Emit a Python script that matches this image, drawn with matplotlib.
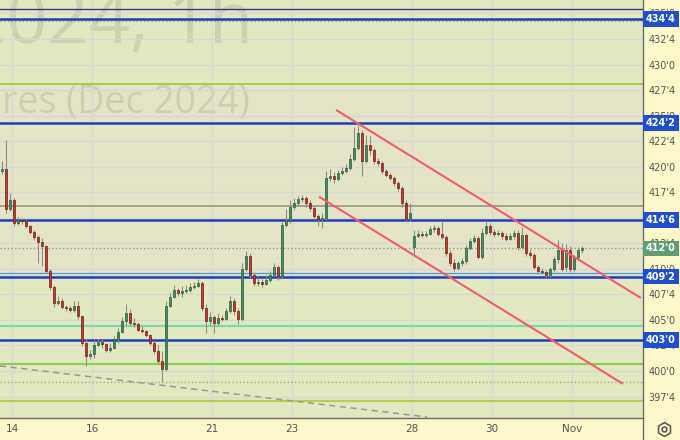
import matplotlib
matplotlib.use('Agg')
import matplotlib.pyplot as plt
from matplotlib.lines import Line2D
from matplotlib.ticker import FuncFormatter

plt.rcParams['font.family'] = ['DejaVu Sans']

# ZCZ2024 hourly candles (cents/bu)
opens = [419.6, 419.8, 415.9, 416.7, 414.5, 414.8, 414.7, 414.2, 413.6, 413.1,
         412.6, 412.2, 409.8, 408.2, 406.7, 406.9, 406.3, 406.2, 406.0, 406.4,
         405.4, 402.7, 401.5, 401.7, 402.5, 402.8, 402.6, 402.1, 402.3, 403.1,
         403.8, 404.9, 405.7, 404.7, 404.6, 404.0, 403.9, 403.5, 402.7, 402.0,
         401.0, 400.2, 406.4, 407.2, 407.9, 407.6, 407.8, 407.9, 408.2, 408.3,
         408.6, 406.2, 404.9, 405.3, 404.7, 405.2, 405.1, 405.9, 406.9, 405.9,
         405.1, 410.0, 411.3, 409.4, 408.6, 408.7, 408.5, 408.9, 409.4, 410.2,
         409.3, 414.3, 414.7, 416.1, 416.4, 416.8, 416.9, 416.4, 416.0, 415.2,
         414.9, 415.0, 418.9, 419.1, 418.8, 419.4, 419.6, 419.9, 420.8, 421.8,
         423.3, 420.6, 422.1, 421.6, 420.6, 420.4, 419.6, 419.2, 418.9, 418.4,
         417.9, 416.4, 414.9, 412.1, 413.2, 413.4, 413.3, 413.4, 413.9, 414.0,
         413.4, 413.1, 411.6, 410.6, 410.1, 410.6, 410.8, 412.0, 412.7, 413.0,
         411.2, 413.5, 414.2, 413.6, 413.4, 413.5, 413.2, 412.9, 413.2, 413.5,
         412.1, 413.3, 411.6, 411.4, 410.2, 409.8, 409.7, 409.4, 410.0, 411.0,
         411.8, 410.2, 411.8, 410.0, 411.2, 411.8]
highs = [420.6, 422.6, 417.4, 416.9, 415.1, 415.0, 414.9, 414.3, 413.8, 413.3,
         413.0, 412.3, 410.0, 408.4, 407.3, 407.1, 406.5, 406.4, 406.9, 406.9,
         405.5, 403.2, 402.1, 403.0, 403.1, 403.1, 402.7, 402.7, 403.4, 404.2,
         405.3, 406.6, 406.1, 405.2, 404.8, 404.4, 404.0, 403.6, 402.9, 402.5,
         402.0, 406.9, 407.6, 408.4, 408.1, 408.3, 408.4, 408.6, 408.7, 409.0,
         408.8, 406.6, 405.8, 405.5, 405.7, 405.5, 406.2, 407.3, 407.1, 406.2,
         410.6, 411.7, 411.6, 409.6, 409.2, 409.0, 409.4, 409.8, 410.6, 410.4,
         414.7, 415.9, 416.7, 416.9, 417.1, 417.2, 417.1, 416.7, 416.2, 415.4,
         415.5, 419.6, 419.8, 419.5, 419.7, 420.0, 420.3, 421.2, 423.9, 424.1,
         423.6, 423.1, 423.0, 421.8, 420.9, 420.6, 419.8, 419.4, 419.1, 418.6,
         418.1, 416.7, 416.4, 413.8, 413.8, 413.7, 413.7, 414.2, 414.3, 414.2,
         414.7, 413.3, 411.8, 411.0, 410.8, 411.1, 412.3, 413.0, 413.3, 413.2,
         414.0, 414.7, 414.5, 413.9, 413.8, 413.7, 413.5, 413.5, 413.8, 413.8,
         414.1, 413.5, 411.9, 411.6, 410.4, 410.1, 409.9, 410.2, 411.3, 412.8,
         412.5, 412.4, 412.2, 411.4, 412.1, 412.2]
lows = [419.3, 415.5, 415.7, 414.2, 414.3, 414.4, 414.0, 413.4, 412.8, 410.6,
        410.3, 409.6, 407.9, 406.3, 406.5, 406.1, 405.9, 405.8, 405.8, 405.1,
        402.4, 400.5, 401.2, 401.3, 402.4, 402.3, 401.9, 401.9, 402.2, 402.7,
        403.7, 404.5, 404.4, 404.3, 403.9, 403.7, 403.3, 402.5, 401.7, 400.8,
        398.9, 400.0, 406.3, 407.1, 407.3, 407.2, 407.6, 407.7, 408.0, 408.2,
        405.9, 403.7, 404.5, 403.7, 404.4, 404.9, 405.0, 405.7, 405.5, 404.6,
        404.9, 409.8, 409.1, 408.3, 408.3, 408.2, 408.4, 408.7, 409.3, 408.9,
        409.1, 414.1, 414.5, 415.8, 416.2, 416.5, 416.1, 415.7, 414.8, 414.2,
        414.0, 414.8, 418.6, 418.4, 418.6, 419.2, 419.4, 419.7, 420.6, 421.6,
        419.1, 420.4, 421.1, 420.3, 420.1, 419.3, 419.0, 418.7, 418.1, 417.6,
        416.1, 414.7, 414.7, 411.5, 413.1, 413.1, 413.1, 413.3, 413.6, 413.2,
        412.9, 411.3, 410.3, 409.8, 409.9, 410.3, 410.5, 411.8, 412.5, 411.0,
        411.0, 413.3, 413.3, 413.1, 413.2, 412.9, 412.7, 412.8, 412.9, 411.8,
        411.9, 411.3, 411.1, 410.0, 409.6, 409.5, 409.2, 409.2, 409.7, 410.6,
        409.8, 409.8, 409.7, 409.8, 411.0, 411.6]
closes = [419.8, 415.9, 416.7, 414.5, 414.8, 414.7, 414.2, 413.6, 413.1, 412.6,
          412.2, 409.8, 408.2, 406.7, 406.9, 406.3, 406.2, 406.0, 406.4, 405.4,
          402.7, 401.5, 401.7, 402.5, 402.8, 402.6, 402.1, 402.3, 403.1, 403.8,
          404.9, 405.7, 404.7, 404.6, 404.0, 403.9, 403.5, 402.7, 402.0, 401.0,
          400.2, 406.4, 407.2, 407.9, 407.6, 407.8, 407.9, 408.2, 408.3, 408.6,
          406.2, 404.9, 405.3, 404.7, 405.2, 405.1, 405.9, 406.9, 405.9, 405.1,
          410.0, 411.3, 409.4, 408.6, 408.7, 408.5, 408.9, 409.4, 410.2, 409.3,
          414.3, 414.7, 416.1, 416.4, 416.8, 416.9, 416.4, 416.0, 415.2, 414.9,
          415.0, 418.9, 419.1, 418.8, 419.4, 419.6, 419.9, 420.8, 421.8, 423.3,
          420.6, 422.1, 421.6, 420.6, 420.4, 419.6, 419.2, 418.9, 418.4, 417.9,
          416.4, 414.9, 415.5, 413.2, 413.4, 413.3, 413.4, 413.9, 414.0, 413.4,
          413.1, 411.6, 410.6, 410.1, 410.6, 410.8, 412.0, 412.7, 413.0, 411.2,
          413.5, 414.2, 413.6, 413.4, 413.5, 413.2, 412.9, 413.2, 413.5, 412.1,
          413.3, 411.6, 411.4, 410.2, 409.8, 409.7, 409.4, 410.0, 411.0, 411.8,
          410.0, 411.8, 410.0, 411.2, 411.8, 412.0]

day_labels = ['14', '16', '21', '23', '28', '30', 'Nov']
day_pos = [2.5, 22.5, 52.5, 72.5, 102.5, 122.5, 142.5]
price_ticks = [397.5, 400.0, 402.5, 405.0, 407.5, 410.0, 412.5, 415.0, 417.5,
               420.0, 422.5, 425.0, 427.5, 430.0, 432.5, 435.0]

# drawn levels
key_levels = [434.5, 424.25, 414.75, 409.25, 403.0]
other_levels = [435.44, 434.26, 428.1, 416.2, 409.64, 404.36, 400.69, 398.92, 397.09]
other_styles = [('#2e3d8e', 1.0, '-'), ('#a3a391', 1.0, ':'), ('#9ccc3c', 1.3, '-'),
                ('#a4a28c', 1.4, '-'), ('#4aa3df', 1.0, '-'), ('#7ddba8', 1.6, '-'),
                ('#86d05a', 1.6, '-'), ('#a3a391', 1.0, ':'), ('#b4d050', 1.6, '-')]
last_price = 412.0

chan_up_x = [83.75, 159.5]
chan_up_y = [425.5, 407.2]
chan_lo_x = [79.5, 155.0]
chan_lo_y = [417.0, 398.8]
trend_x = [-0.5, 106.25]
trend_y = [400.5, 395.5]

fig = plt.figure(figsize=(6.8, 4.4), dpi=100)
fig.patch.set_facecolor('#fdf8c9')
ax = fig.add_axes([0, 22 / 440, 643 / 680, 418 / 440])
ax.set_xlim(-0.5, 160.25)
ax.set_ylim(395.40, 436.32)
ax.set_facecolor('#e3e8c1')

# background zones
ax.axhspan(409.25, 428.1, color='#e6e4c7', zorder=0, lw=0)
ax.axhspan(428.1, 436.32, color='#e2e8c0', zorder=0, lw=0)

# watermark
ax.text(253 / 643, (418 - 43) / 418, 'ZCZ2024, 1h', transform=ax.transAxes,
        ha='right', va='baseline', fontsize=52, family='Open Sans',
        color='#8e9080', alpha=0.26, zorder=0.2, clip_on=True)
ax.text(250 / 643, (418 - 112) / 418, 'Corn Futures (Dec 2024)', transform=ax.transAxes,
        ha='right', va='baseline', fontsize=27, family='Open Sans',
        color='#8e9080', alpha=0.26, zorder=0.2, clip_on=True)

# grid
for p in price_ticks:
    ax.axhline(p, color='#d3d9d6', lw=0.9, zorder=0.3)
for d in day_pos:
    ax.axvline(d, color='#d3d9d6', lw=0.9, zorder=0.3)

for p, (c, lw, ls) in zip(other_levels, other_styles):
    ax.axhline(p, color=c, lw=lw, ls=ls, zorder=1)
for p in key_levels:
    ax.axhline(p, color='#1c3fb5', lw=1.8, zorder=1.1)
ax.axhline(last_price, color='#84a484', lw=1.0, ls=':', zorder=1)

ax.plot(trend_x, trend_y, color='#9a9a92', lw=1.1, ls=(0, (4, 3)), zorder=1.2)

# candles
xs = list(range(len(closes)))
ax.vlines(xs, lows, highs, color='#8e8e86', lw=0.8, zorder=2)
for x, o, c in zip(xs, opens, closes):
    up = c >= o
    ax.bar(x, max(abs(c - o), 0.1), bottom=min(o, c), width=0.7,
           color='#3f8f5f' if up else '#c23a2d',
           edgecolor='#2c5c3c' if up else '#6e1c14', lw=0.5, zorder=3)

ax.plot(chan_up_x, chan_up_y, color='#f25c6e', lw=1.5, zorder=4)
ax.plot(chan_lo_x, chan_lo_y, color='#f25c6e', lw=1.5, zorder=4)

# axes
for s in ['top', 'left']:
    ax.spines[s].set_visible(False)
for s in ['right', 'bottom']:
    ax.spines[s].set_color('#6b6b6b')
    ax.spines[s].set_linewidth(1)
ax.yaxis.tick_right()
ax.set_yticks(price_ticks)
ax.yaxis.set_major_formatter(FuncFormatter(
    lambda v, pos: f"{int(v)}'{int(round((v - int(v)) * 8))}"))
ax.tick_params(axis='y', length=0, pad=4, labelsize=7, labelcolor='#555555')
ax.set_xticks(day_pos, day_labels)
ax.tick_params(axis='x', length=0, pad=4, labelsize=7.5, labelcolor='#555555')

fmt = lambda v: f"{int(v)}'{int(round((v - int(v)) * 8))}"
for p in key_levels:
    ax.annotate(fmt(p), xy=(1, p), xycoords=('axes fraction', 'data'),
                xytext=(2.2, 0), textcoords='offset points', ha='left', va='center',
                fontsize=7, color='white', fontweight='bold', zorder=10,
                annotation_clip=False,
                bbox=dict(boxstyle='square,pad=0.3', fc='#1f4fc9', ec='none'))
ax.annotate(fmt(last_price), xy=(1, last_price), xycoords=('axes fraction', 'data'),
            xytext=(2.2, 0), textcoords='offset points', ha='left', va='center',
            fontsize=7, color='white', fontweight='bold', zorder=10,
            annotation_clip=False,
            bbox=dict(boxstyle='square,pad=0.3', fc='#5e9e72', ec='none'))

# panel separator and settings glyph
fig.add_artist(Line2D([643 / 680, 643 / 680], [0, 22 / 440], color='#6b6b6b', lw=1))
fig.add_artist(Line2D([664 / 680], [1 - 429 / 440], marker='h', ms=10, mfc='none',
                      mec='#555555', mew=1.1, transform=fig.transFigure))
fig.add_artist(Line2D([664 / 680], [1 - 429 / 440], marker='o', ms=3.5, mfc='none',
                      mec='#555555', mew=1.1, transform=fig.transFigure))

fig.savefig('out.png', dpi=100, facecolor=fig.get_facecolor())
